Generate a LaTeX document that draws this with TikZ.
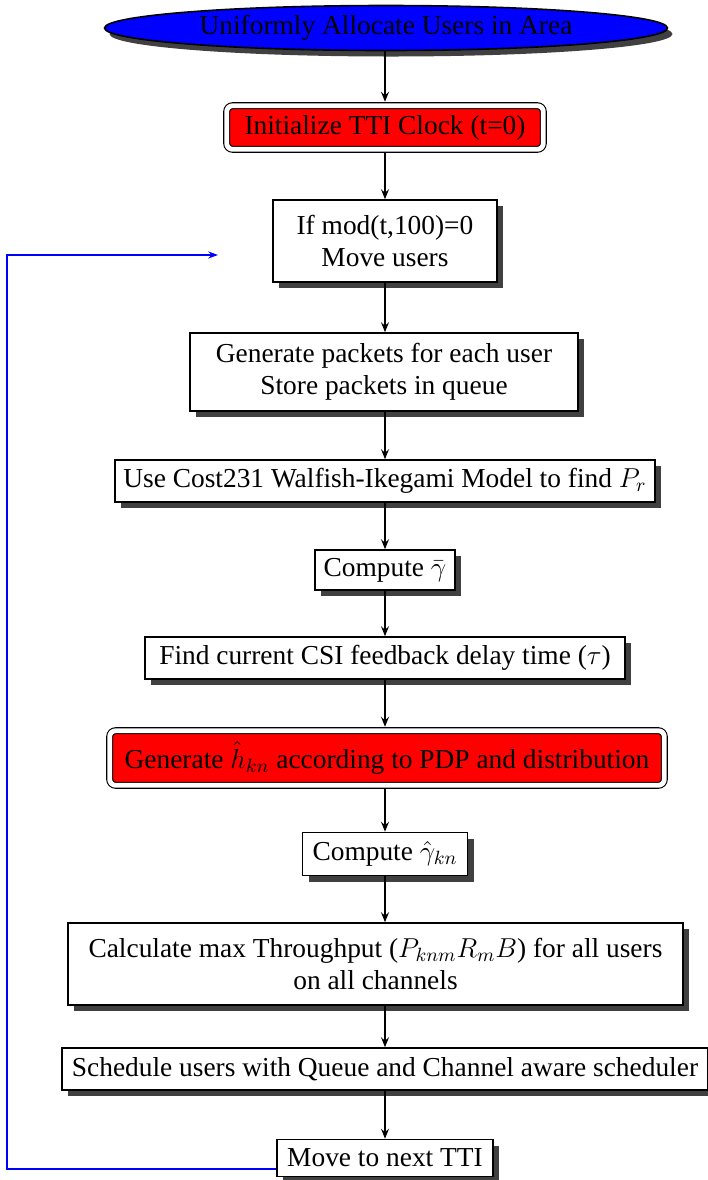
\documentclass[tikz,border=0pt]{standalone}
\usepackage{fix-cm}
\usepackage{fontspec}
\setmainfont{Liberation Serif}
\usetikzlibrary{shapes.geometric,shadows,arrows.meta}
\begin{document}
\begin{tikzpicture}[x=0.5pt,y=-0.5pt,
  every node/.style={font=\fontsize{13.7}{16}\selectfont},
  shad/.style={drop shadow={shadow xshift=3pt,shadow yshift=-3.2pt,fill=black!75,opacity=1}},
  box/.style={draw=black,line width=0.8pt,fill=white,rectangle,align=center,inner sep=0pt,shad},
  redbox/.style={draw=black,line width=0.55pt,double=white,double distance=2.4pt,fill=red,rounded corners=3pt,rectangle,align=center,inner sep=0pt},
  ell/.style={draw=black,line width=0.8pt,fill=blue,ellipse,inner sep=0pt,minimum width=281.5pt,minimum height=22.5pt,
    drop shadow={shadow xshift=2.5pt,shadow yshift=-3pt,fill=black!75,opacity=1}},
  arr/.style={line width=0.6pt,-{Stealth[length=5pt,width=4pt,inset=1.8pt]}},
  loopline/.style={draw=blue,line width=0.7pt,-{Stealth[length=5pt,width=3.6pt,inset=1.8pt]}}
]
\useasboundingbox (0,0) rectangle (708,1180);
\node[ell] (n1) at (386,28) {Uniformly Allocate Users in Area};
\node[redbox,minimum width=158.3pt,minimum height=21.8pt] (n2) at (385,127.5) {Initialize TTI Clock (t=0)};
\node[box,minimum width=112pt,minimum height=41pt] (n3) at (385,241) {If mod(t,100)=0\\Move users};
\node[box,minimum width=194pt,minimum height=39pt] (n4) at (384,372) {Generate packets for each user\\Store packets in queue};
\node[box,minimum width=270pt,minimum height=21pt] (n5) at (385,481) {Use Cost231 Walfish-Ikegami Model to find $P_r$};
\node[box,minimum width=70pt,minimum height=20pt] (n6) at (385,570) {Compute $\bar{\gamma}$};
\node[box,minimum width=240pt,minimum height=21pt] (n7) at (385,658) {Find current CSI feedback delay time ($\tau$)};
\node[redbox,minimum width=277.3pt,minimum height=27.3pt] (n8) at (387,758) {Generate $\hat{h}_{kn}$ according to PDP and distribution};
\node[box,minimum width=82.5pt,minimum height=21.5pt] (n9) at (385,854) {Compute $\hat{\gamma}_{kn}$};
\node[box,minimum width=307.5pt,minimum height=41pt] (n10) at (375.5,964) {Calculate max Throughput ($P_{knm}R_mB$) for all users\\on all channels};
\node[box,minimum width=323pt,minimum height=21pt] (n11) at (385,1069) {Schedule users with Queue and Channel aware scheduler};
\node[box,minimum width=108pt,minimum height=18.5pt] (n12) at (385,1158) {Move to next TTI};
\coordinate (ax) at (385,0);
\coordinate (lcorner) at (7,255);
\coordinate (loopend) at (218,255);
\draw[arr,shorten >=1.7pt] (ax |- n1.south) -- (ax |- n2.north);
\draw[arr] ([yshift=-1.7pt]ax |- n2.south) -- (ax |- n3.north);
\draw[arr] (ax |- n3.south) -- (ax |- n4.north);
\draw[arr] (ax |- n4.south) -- (ax |- n5.north);
\draw[arr] (ax |- n5.south) -- (ax |- n6.north);
\draw[arr] (ax |- n6.south) -- (ax |- n7.north);
\draw[arr,shorten >=1.7pt] (ax |- n7.south) -- (ax |- n8.north);
\draw[arr] ([yshift=-1.7pt]ax |- n8.south) -- (ax |- n9.north);
\draw[arr] (ax |- n9.south) -- (ax |- n10.north);
\draw[arr] (ax |- n10.south) -- (ax |- n11.north);
\draw[arr] (ax |- n11.south) -- (ax |- n12.north);
\draw[loopline] ([yshift=-5.5pt]n12.west) -| (lcorner) -- (loopend);
\end{tikzpicture}
\end{document}
